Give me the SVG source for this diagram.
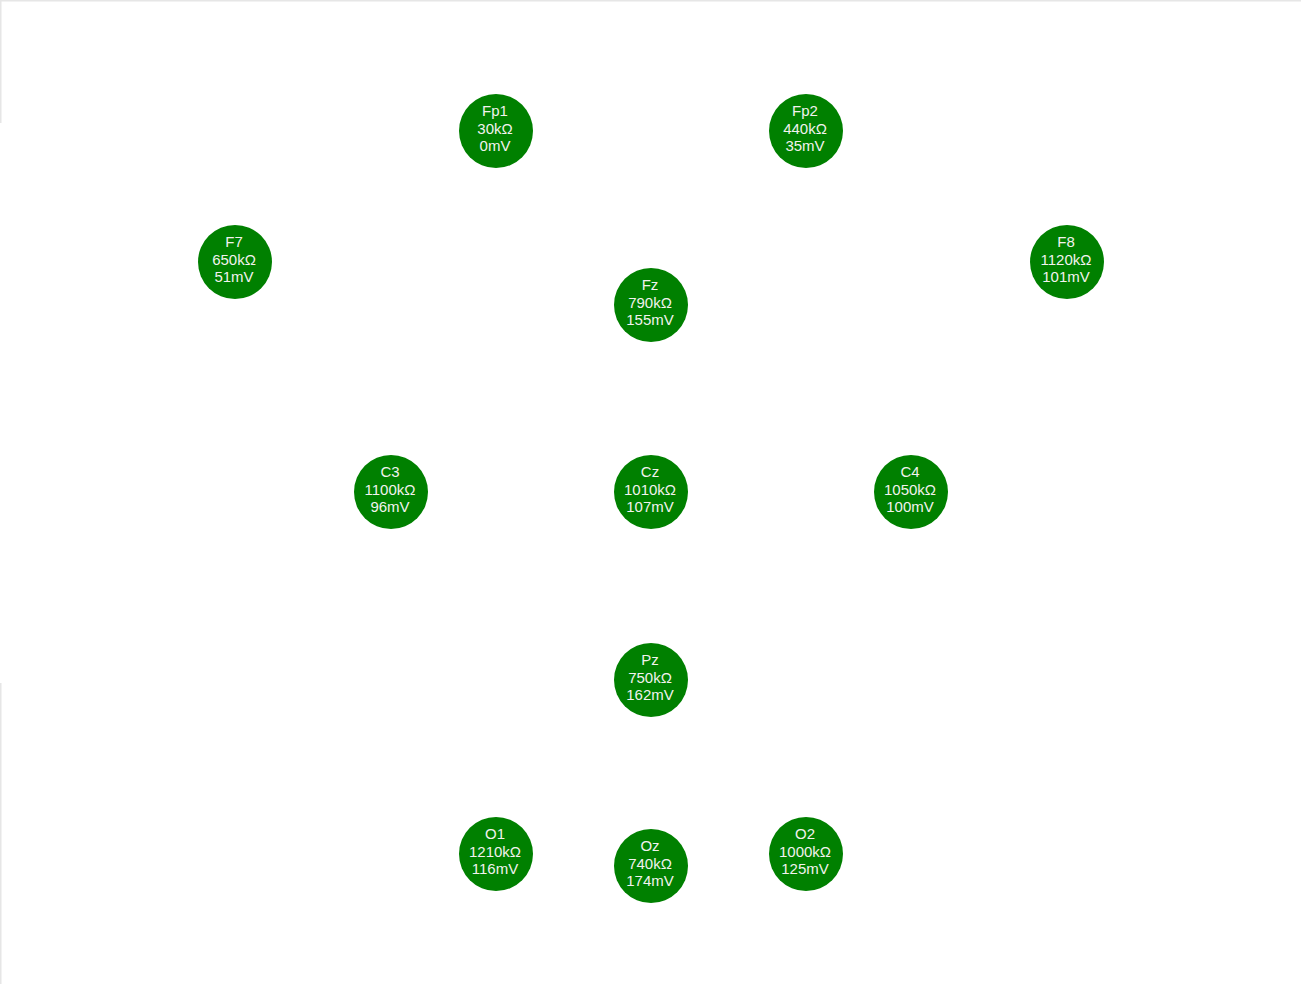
<svg xmlns="http://www.w3.org/2000/svg" width="1301" height="984" viewBox="0 0 1301 984">
<style>
.n circle{fill:#008000}
.n text{font-family:"Liberation Sans",Arial,sans-serif;font-size:15px;fill:#f2f2ee;text-anchor:middle}
.frame{stroke:#e6e6e6;stroke-width:1.5;fill:none}
</style>
<rect x="0" y="0" width="1301" height="984" fill="#ffffff"/>
<g id="frame">
<line class="frame" x1="0" y1="0.75" x2="1301" y2="0.75"/>
<line class="frame" x1="0.75" y1="0" x2="0.75" y2="123"/>
<line class="frame" x1="0.75" y1="683" x2="0.75" y2="984"/>
</g>
<g id="connectors"></g>
<g id="Fp1" class="n" transform="translate(496,131)"><circle r="37"/><text x="-1" y="-15">Fp1</text><text x="-1" y="2.5">30kΩ</text><text x="-1" y="20">0mV</text></g>
<g id="Fp2" class="n" transform="translate(806,131)"><circle r="37"/><text x="-1" y="-15">Fp2</text><text x="-1" y="2.5">440kΩ</text><text x="-1" y="20">35mV</text></g>
<g id="F7" class="n" transform="translate(235,262)"><circle r="37"/><text x="-1" y="-15">F7</text><text x="-1" y="2.5">650kΩ</text><text x="-1" y="20">51mV</text></g>
<g id="F8" class="n" transform="translate(1067,262)"><circle r="37"/><text x="-1" y="-15">F8</text><text x="-1" y="2.5">1120kΩ</text><text x="-1" y="20">101mV</text></g>
<g id="Fz" class="n" transform="translate(651,305)"><circle r="37"/><text x="-1" y="-15">Fz</text><text x="-1" y="2.5">790kΩ</text><text x="-1" y="20">155mV</text></g>
<g id="C3" class="n" transform="translate(391,492)"><circle r="37"/><text x="-1" y="-15">C3</text><text x="-1" y="2.5">1100kΩ</text><text x="-1" y="20">96mV</text></g>
<g id="Cz" class="n" transform="translate(651,492)"><circle r="37"/><text x="-1" y="-15">Cz</text><text x="-1" y="2.5">1010kΩ</text><text x="-1" y="20">107mV</text></g>
<g id="C4" class="n" transform="translate(911,492)"><circle r="37"/><text x="-1" y="-15">C4</text><text x="-1" y="2.5">1050kΩ</text><text x="-1" y="20">100mV</text></g>
<g id="Pz" class="n" transform="translate(651,680)"><circle r="37"/><text x="-1" y="-15">Pz</text><text x="-1" y="2.5">750kΩ</text><text x="-1" y="20">162mV</text></g>
<g id="O1" class="n" transform="translate(496,854)"><circle r="37"/><text x="-1" y="-15">O1</text><text x="-1" y="2.5">1210kΩ</text><text x="-1" y="20">116mV</text></g>
<g id="Oz" class="n" transform="translate(651,866)"><circle r="37"/><text x="-1" y="-15">Oz</text><text x="-1" y="2.5">740kΩ</text><text x="-1" y="20">174mV</text></g>
<g id="O2" class="n" transform="translate(806,854)"><circle r="37"/><text x="-1" y="-15">O2</text><text x="-1" y="2.5">1000kΩ</text><text x="-1" y="20">125mV</text></g>
</svg>
